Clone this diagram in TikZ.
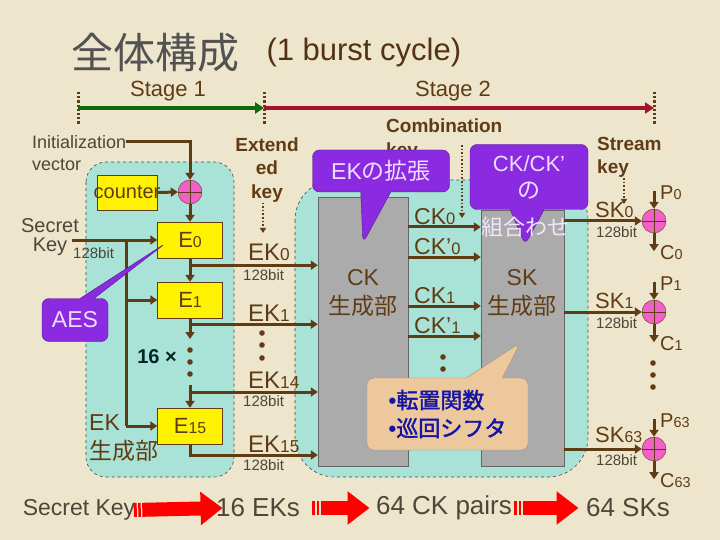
\documentclass[tikz,border=0pt]{standalone}
\usepackage{graphicx}
\usepackage{fontspec}
\setmainfont{Liberation Sans}
\newfontfamily\jp{Noto Sans CJK JP}[AutoFakeBold=2]
\usetikzlibrary{arrows.meta,positioning,shapes.callouts,calc}

\definecolor{paper}{HTML}{EEE5CD}
\definecolor{pool}{HTML}{A9E2D6}
\definecolor{ink}{HTML}{603C14}
\definecolor{dim}{HTML}{4E4638}
\definecolor{plum}{HTML}{8A2BE2}
\definecolor{lilac}{HTML}{F0DCFF}
\definecolor{rose}{HTML}{F060C8}
\definecolor{leaf}{HTML}{0F6A0F}
\definecolor{wine}{HTML}{A3142C}
\definecolor{peach}{HTML}{EDC89C}
\definecolor{navyish}{HTML}{1515A5}

\newcommand{\fsz}[2]{\fontsize{#1}{#2}\selectfont}
\newcommand{\idx}[1]{\scalebox{0.72}{#1}}

\tikzset{
  wire/.style={draw=ink, line width=3pt, -{Triangle[length=7pt,width=9pt]}},
  bare/.style={draw=ink, line width=3pt},
  hint/.style={draw=ink, line width=1.6pt, dotted, -{Triangle[length=5pt,width=6pt]}},
  ebox/.style={draw=ink, fill=yellow, minimum width=65pt, minimum height=36pt,
    inner sep=0pt, text=ink, font=\fsz{22}{26}},
  gen/.style={draw=black!60, fill=black!33, inner sep=0pt},
  xor/.style={circle, draw=ink, fill=rose, minimum size=24pt, inner sep=0pt,
    path picture={\draw[ink, line width=.6pt]
      (path picture bounding box.north) -- (path picture bounding box.south)
      (path picture bounding box.west) -- (path picture bounding box.east);}},
  lbl/.style={text=ink, inner sep=0pt, font=\fsz{23}{28}},
  bits/.style={text=dim, inner sep=0pt, font=\fsz{15}{18}, anchor=west},
  head/.style={text=ink, inner sep=0pt, font=\bfseries\fsz{19}{23.5}, align=left},
  say/.style={rectangle callout, rounded corners=7pt, fill=plum, draw=plum!60!black,
    text=lilac, font=\jp\fsz{23}{27}, align=center, inner sep=2pt},
  block/.style={draw=red, line width=14pt,
    dash pattern=on 3pt off 1.5pt on 2.5pt off 1.5pt on 600pt,
    -{Triangle[length=22pt,width=32pt]}},
  region/.style={fill=pool, draw=dim, dashed, line width=.6pt},
}

\begin{document}
\begin{tikzpicture}[x=1pt, y=-1pt]
  \useasboundingbox (0,0) rectangle (720,540);
  \fill[paper] (0,0) rectangle (720,540);

  % title and stages
  \node[text=black!68, font=\jp\fsz{42}{46}] (title) at (155,53) {全体構成};
  \node[text=ink!85!black, font=\fsz{31}{35}, anchor=west] (cycle) at (263,52) {(1 burst cycle)};
  \coordinate (m0) at (78,108);
  \coordinate (m1) at (264,108);
  \coordinate (m2) at (654,108);
  \foreach \m in {m0,m1,m2}
    \draw[ink, line width=3pt, dash pattern=on 2.2pt off 2pt] ($(\m)+(0,-16)$) -- ($(\m)+(0,17)$);
  \draw[leaf, line width=4pt, -{Triangle[length=9pt,width=11pt]}] (m0) -- (m1);
  \draw[wine, line width=4pt, -{Triangle[length=9pt,width=11pt]}] (m1) -- (m2);
  \node[text=ink, font=\fsz{22}{26}] (st1) at (168,91) {Stage 1};
  \node[text=ink, font=\fsz{22}{26}] (st2) at (453,91) {Stage 2};

  % regions and generators
  \draw[region, rounded corners=20pt] (86,162) rectangle (234,477);
  \draw[region, rounded corners=40pt] (295,180) rectangle (588,477);
  \node[gen, minimum width=90pt, minimum height=269pt] (ckgen) at (363,331.5) {};
  \node[gen, minimum width=83pt, minimum height=256pt] (skgen) at (522.5,338) {};
  \node[lbl, align=center, font=\fsz{23}{29}] (cklbl) at (363,293) {CK\\{\jp 生成部}};
  \node[lbl, align=center, font=\fsz{23}{29}] (sklbl) at (522,293) {SK\\{\jp 生成部}};

  % stage 1
  \node[text=dim, font=\fsz{18}{22}, inner sep=0pt, anchor=west] (iv1) at (32,142) {Initialization};
  \node[text=dim, font=\fsz{18}{22}, inner sep=0pt, anchor=west] (iv2) at (32,165) {vector};
  \node[text=dim, font=\fsz{20}{19}, align=center, inner sep=0pt] (sec) at (50,237) {Secret\\Key};
  \node[bits] (sbits) at (73,253) {128bit};
  \node[ebox, minimum width=60pt, minimum height=35pt, font=\fsz{20}{24}] (ctr) at (127,192.5) {\makebox[50pt]{counter}};
  \node[xor] (xin) at (190,192) {};
  \node[ebox] (e0) at (190,240) {E\idx{0}};
  \node[ebox] (e1) at (190,300) {E\idx{1}};
  \node[ebox] (e15) at (190,426) {E\idx{15}};

  \draw[wire] (iv1.east) -| (xin.north);
  \draw[wire] (ctr.east) -- (xin.west);
  \draw[wire] (xin.south) -- (e0.north);
  \coordinate (skin) at (72,240);
  \coordinate (br) at (126,240);
  \draw[wire] (skin) -- (e0.west);
  \draw[bare] (br) -- (br |- e15.west);
  \draw[wire] (br |- e1.west) -- (e1.west);
  \draw[wire] (br |- e15.west) -- (e15.west);

  \draw[wire] (e0.south) -- (e1.north);
  \coordinate (k0) at ($(e0.south)+(0,7)$);
  \coordinate (k1) at ($(e1.south)+(0,6)$);
  \coordinate (d1) at (190,339);
  \coordinate (d2) at (190,385);
  \coordinate (k14) at (190,392);
  \coordinate (k15) at (190,455);
  \draw[wire] (e1.south) -- (d1);
  \foreach \y in {350,362,374}
    \fill[ink] (190,\y) circle (2.8pt);
  \draw[wire] (d2) -- (e15.north);
  \foreach \k in {k0,k1,k14}
    \draw[wire] (\k) -- (\k -| ckgen.west);
  \draw[wire] (e15.south) -- (k15) -- (k15 -| ckgen.west);

  \node[text=black!70!teal, font=\bfseries\fsz{20}{24}] (times) at (157,357) {16 ×};
  \node[lbl, align=left, anchor=north west, font=\fsz{23}{29}] (ekgen) at (89,414) {EK\\{\jp 生成部}};

  % extended keys
  \node[head, align=center] (ext) at (267,170) {Extend\\ed\\key};
  \node[lbl, font=\fsz{24}{28}, anchor=west] (ek0) at (248,252) {EK\idx{0}};
  \node[bits] (b0) at (243,275) {128bit};
  \node[lbl, font=\fsz{24}{28}, anchor=west] (ek1) at (248,313) {EK\idx{1}};
  \foreach \y in {333,345,358}
    \fill[ink] (262,\y) circle (2.8pt);
  \node[lbl, font=\fsz{24}{28}, anchor=west] (ek14) at (248,380) {EK\idx{14}};
  \node[bits] (b14) at (243,401) {128bit};
  \node[lbl, font=\fsz{24}{28}, anchor=west] (ek15) at (248,444) {EK\idx{15}};
  \node[bits] (b15) at (243,465) {128bit};
  \coordinate (edrop) at (263,233);
  \draw[hint] (edrop |- ext.south) -- (edrop);

  % combination keys
  \node[head, anchor=north west] (comb) at (386,119) {Combination\\key};
  \foreach \i/\y/\t in {0/227/{CK\idx{0}}, 1/257/{CK’\idx{0}}, 2/306/{CK\idx{1}}, 3/336/{CK’\idx{1}}}{
    \coordinate (c\i) at (408,\y);
    \draw[wire] (c\i) -- (c\i -| skgen.west);
    \node[lbl, anchor=south west] (cl\i) at (414,\y-2) {\t};
  }
  \foreach \y in {357,369}
    \fill[ink] (443,\y) circle (2.8pt);
  \coordinate (ctop) at (462,145);
  \draw[hint] (ctop) -- (ctop |- c0) [shorten >=9pt];

  % stream keys
  \node[head, anchor=north west] (stream) at (597,137) {Stream\\key};
  \coordinate (sdrop) at (624,204);
  \draw[hint] (sdrop |- stream.south) -- (sdrop);
  \foreach \i/\y/\n/\u in {0/221/0/11, 1/312/1/11, 63/449/63/14}{
    \node[xor] (x\i) at (654,\y) {};
    \coordinate (s\i) at (skgen.east |- x\i);
    \draw[wire] (s\i) -- (x\i.west);
    \node[lbl, font=\fsz{22}{26}, anchor=west] (sk\i) at (595,\y-\u) {SK\idx{\n}};
    \node[bits] (sb\i) at (596,\y+11) {128bit};
    \coordinate (p\i) at ($(x\i.north)+(0,-18)$);
    \draw[wire] (p\i) -- (x\i.north);
    \node[lbl, font=\fsz{20}{24}, anchor=west] (pl\i) at (660,\y-28) {P\idx{\n}};
    \coordinate (q\i) at ($(x\i.south)+(0,18)$);
    \draw[wire] (x\i.south) -- (q\i);
    \node[lbl, font=\fsz{20}{24}, anchor=west] (ql\i) at (660,\y+32) {C\idx{\n}};
  }
  \foreach \y in {363,375,387}
    \fill[ink] (653,\y) circle (2.8pt);

  % callouts
  \node[say, minimum width=66pt, minimum height=43pt, font=\fsz{23}{27},
    callout absolute pointer={(166,243)}, callout pointer width=14pt] (aes) at (75,320) {AES};
  \node[say, minimum width=137pt, minimum height=42pt,
    callout absolute pointer={(363,243)}, callout pointer width=30pt] (ekx) at (381,171) {{\rmfamily EK}の拡張};
  \node[say, minimum width=118pt, minimum height=65pt,
    callout absolute pointer={(525,245)}, callout pointer width=34pt] (mix) at (529,177) {{\rmfamily\fsz{22}{27}CK/CK’}\\の};
  \node[text=white!88!plum, font=\jp\fsz{22}{26}, inner sep=0pt] (mix2) at (525,227) {組合わせ};
  \node[rectangle callout, rounded corners=7pt, fill=peach, draw=ink!55, text=navyish,
    font=\jp\bfseries\fsz{22}{28}, align=left, minimum width=161pt, minimum height=72pt,
    callout absolute pointer={(520,343)}, callout pointer width=36pt] (ops) at (447.5,414)
    {{\rmfamily\textbullet}転置関数\\{\rmfamily\textbullet}巡回シフタ};

  % bottom summary
  \node[text=dim, font=\fsz{23}{27}] (skey) at (79,510) {Secret Key};
  \node[text=dim, font=\fsz{26}{30}] (eks) at (258,508) {16 EKs};
  \node[text=dim, font=\fsz{26}{30}] (ckp) at (444,508) {64 CK pairs};
  \node[text=dim, font=\fsz{26}{30}] (sks) at (628,508) {64 SKs};
  \draw[block] ([xshift=-5pt]skey.east) -- ([xshift=10pt]eks.west);
  \draw[block] ([xshift=9pt]eks.east) -- ([xshift=-3pt]ckp.west);
  \draw[block] ([xshift=-1pt]ckp.east) -- ([xshift=-4pt]sks.west);
\end{tikzpicture}
\end{document}
